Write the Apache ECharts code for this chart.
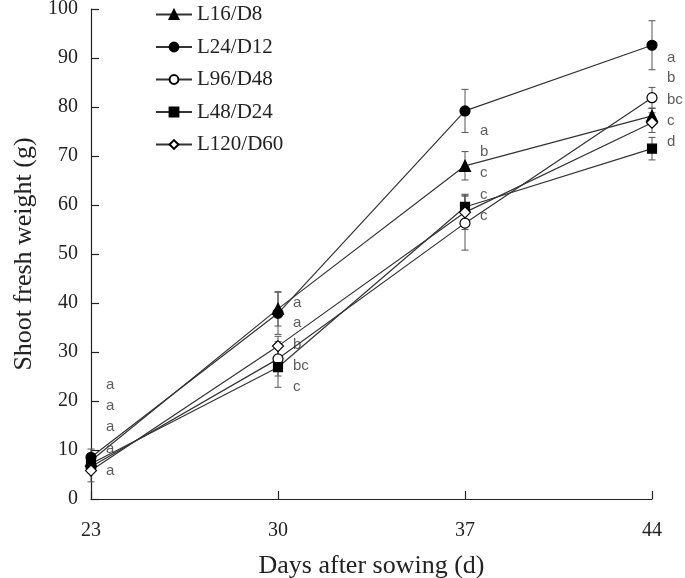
<!DOCTYPE html>
<html><head><meta charset="utf-8">
<script src="https://cdn.jsdelivr.net/npm/echarts@6/dist/echarts.min.js"></script>
<style>html,body{margin:0;padding:0;background:#fff}#c{width:685px;height:578px}</style>
</head><body><div id="c"></div>
<script>
const days = ['23', '30', '37', '44'];
const yTicks = [0, 10, 20, 30, 40, 50, 60, 70, 80, 90, 100];
const names = ['L16/D8', 'L24/D12', 'L96/D48', 'L48/D24', 'L120/D60'];
const L16 = [7.8, 38.8, 68.0, 78.2];
const L16err = [1.2, 3.5, 2.9, 1.5];
const L24 = [8.5, 37.9, 79.2, 92.6];
const L24err = [1.7, 4.3, 4.4, 5.0];
const L96 = [6.6, 28.6, 56.3, 81.9];
const L96err = [1.2, 3.5, 5.5, 2.1];
const L48 = [7.2, 26.9, 59.6, 71.5];
const L48err = [1.2, 4.1, 2.6, 2.3];
const L120 = [5.8, 31.2, 58.5, 76.8];
const L120err = [2.3, 2.0, 3.5, 2.0];
// significance letters: text and vertical position (in y units) per day
const letters23 = ['a', 'a', 'a', 'a', 'a'];
const lettersY23 = [23.3, 19.0, 14.7, 10.2, 5.7];
const letters30 = ['a', 'a', 'b', 'bc', 'c'];
const lettersY30 = [40.1, 35.9, 31.4, 27.1, 22.9];
const letters37 = ['a', 'b', 'c', 'c', 'c'];
const lettersY37 = [75.2, 70.8, 66.5, 62.0, 57.8];
const letters44 = ['a', 'b', 'bc', 'c', 'd'];
const lettersY44 = [90.1, 85.9, 81.5, 77.2, 72.9];

const means = [L16, L24, L96, L48, L120];
const errs = [L16err, L24err, L96err, L48err, L120err];
const symbols = ['triangle', 'circle', 'circle', 'rect', 'diamond'];
const sizes = [11, 10, 10, 9, 11];
const fills = ['#000', '#000', '#fff', '#000', '#fff'];

const serif = 'Liberation Serif';
const chart = echarts.init(document.getElementById('c'));

const series = [];
const errData = [];
means.forEach((m, s) => m.forEach((v, i) => errData.push([i, v - errs[s][i], v + errs[s][i]])));
series.push({
  type: 'custom', z: 1, silent: true,
  data: errData,
  renderItem: function (params, api) {
    const lo = api.coord([api.value(0), api.value(1)]);
    const hi = api.coord([api.value(0), api.value(2)]);
    const w = 3.5;
    const st = {stroke: '#555', lineWidth: 1};
    return {type: 'group', children: [
      {type: 'line', shape: {x1: lo[0], y1: lo[1], x2: hi[0], y2: hi[1]}, style: st},
      {type: 'line', shape: {x1: lo[0] - w, y1: lo[1], x2: lo[0] + w, y2: lo[1]}, style: st},
      {type: 'line', shape: {x1: hi[0] - w, y1: hi[1], x2: hi[0] + w, y2: hi[1]}, style: st}
    ]};
  }
});
means.forEach((m, s) => {
  series.push({
    name: names[s], type: 'line', data: m, z: 3,
    symbol: symbols[s], symbolSize: sizes[s], showAllSymbol: true,
    lineStyle: {color: '#333', width: 1.2},
    itemStyle: {color: fills[s], borderColor: '#000', borderWidth: 1.2},
    emphasis: {disabled: true}, animation: false
  });
});
const letterSets = [[letters23, lettersY23], [letters30, lettersY30], [letters37, lettersY37], [letters44, lettersY44]];
const letterData = [];
letterSets.forEach((ls, i) => ls[0].forEach((t, k) => letterData.push({value: [i, ls[1][k]], name: t})));
series.push({
  type: 'scatter', symbolSize: 0, data: letterData, z: 4, silent: true,
  label: {show: true, position: 'right', distance: 15, formatter: p => p.name,
    fontFamily: 'Liberation Sans', fontSize: 15, color: '#333'}
});

chart.setOption({
  animation: false,
  backgroundColor: '#fff',
  grid: {left: 91, right: 33, top: 9, bottom: 79, containLabel: false, outerBoundsMode: 'none'},
  legend: {
    data: names, orient: 'vertical', left: 150, top: -1,
    itemWidth: 36, itemHeight: 11, itemGap: 11.5,
    textStyle: {fontFamily: serif, fontSize: 21, color: '#222'}
  },
  xAxis: {
    type: 'category', data: days, boundaryGap: false,
    name: 'Days after sowing (d)', nameLocation: 'middle', nameGap: 54,
    nameTextStyle: {fontFamily: serif, fontSize: 26, color: '#222'},
    axisLine: {lineStyle: {color: '#222', width: 1.2}},
    axisTick: {inside: true, length: 8, lineStyle: {color: '#222', width: 1.2}},
    axisLabel: {margin: 22, fontFamily: serif, fontSize: 20, color: '#222'},
    splitLine: {show: false}
  },
  yAxis: {
    type: 'value', min: yTicks[0], max: yTicks[yTicks.length - 1], interval: 10,
    name: 'Shoot fresh weight (g)', nameLocation: 'middle', nameGap: 54,
    nameTextStyle: {fontFamily: serif, fontSize: 26, color: '#222'},
    axisLine: {show: true, lineStyle: {color: '#222', width: 1.2}},
    axisTick: {show: true, inside: true, length: 8, lineStyle: {color: '#222', width: 1.2}},
    axisLabel: {margin: 13, fontFamily: serif, fontSize: 20, color: '#222'},
    splitLine: {show: false}
  },
  series: series
});
</script></body></html>
